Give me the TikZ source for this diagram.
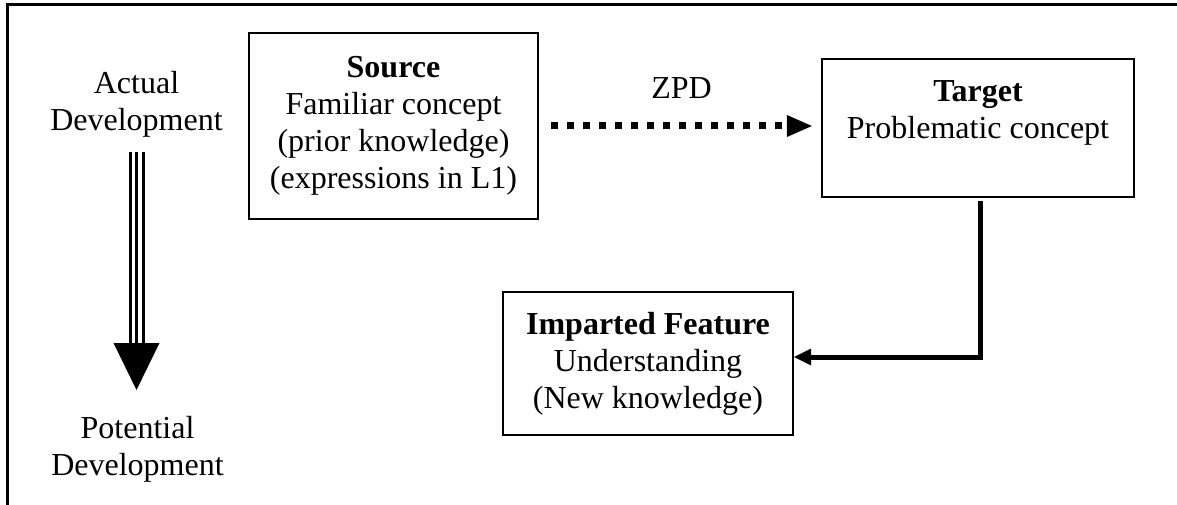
\documentclass[tikz,border=0pt]{standalone}
\usepackage{fontspec}
\setmainfont{Liberation Serif}
\usetikzlibrary{arrows.meta}
\tikzset{
  box/.style={draw, line width=2.2pt, align=center, inner sep=0pt},
  txt/.style={align=center, inner sep=0pt},
  zpd/.style={line width=7pt, dash pattern=on 7pt off 9pt, -{Triangle[width=22pt,length=25pt,line width=0pt]}},
  feed/.style={line width=5pt, line join=miter, -{Triangle[width=17pt,length=17pt,line width=0pt]}}
}
\begin{document}
\begin{tikzpicture}[x=1pt, y=-1pt, font=\fontsize{32}{37}\selectfont]
	\useasboundingbox (0,0) rectangle (1177,505);
	\draw[line width=3pt, line join=miter] (7,505) -- (7,5) -- (1177,5);
	\node[box, minimum width=289pt, minimum height=186pt] (source) at (393.5,126) {\textbf{Source}\\Familiar concept\\(prior knowledge)\\(expressions in L1)};
	\node[box, minimum width=312pt, minimum height=138pt] (target) at (978,128) {\textbf{Target}\\Problematic concept\\\mbox{}};
	\node[box, minimum width=290pt, minimum height=143pt] (imparted) at (648,363.5) {\textbf{Imparted Feature}\\Understanding\\(New knowledge)};
	\node[txt] (actual) at (136.5,104) {Actual\\Development};
	\node[txt] (potential) at (137.5,449) {Potential\\Development};
	\coordinate (devtop) at (136.5,152);
	\coordinate (devhead) at (136.5,343);
	\coordinate (devtip) at (136.5,390);
	\coordinate (bend) at (980,357);
	\draw[zpd] ([xshift=12pt]source.east) -- ([xshift=-9pt]target.west |- source.east) node[midway, yshift=38pt] {ZPD};
	\draw[feed] ([yshift=-3pt]bend |- target.south) -- (bend) -- (bend -| imparted.east);
	\foreach \dx in {-6.5,0,6.5}
		\draw[line width=3pt] ([xshift=\dx pt]devtop) -- ([xshift=\dx pt]devhead);
	\fill ([xshift=-23pt]devhead) -- ([xshift=23pt]devhead) -- (devtip) -- cycle;
\end{tikzpicture}
\end{document}
